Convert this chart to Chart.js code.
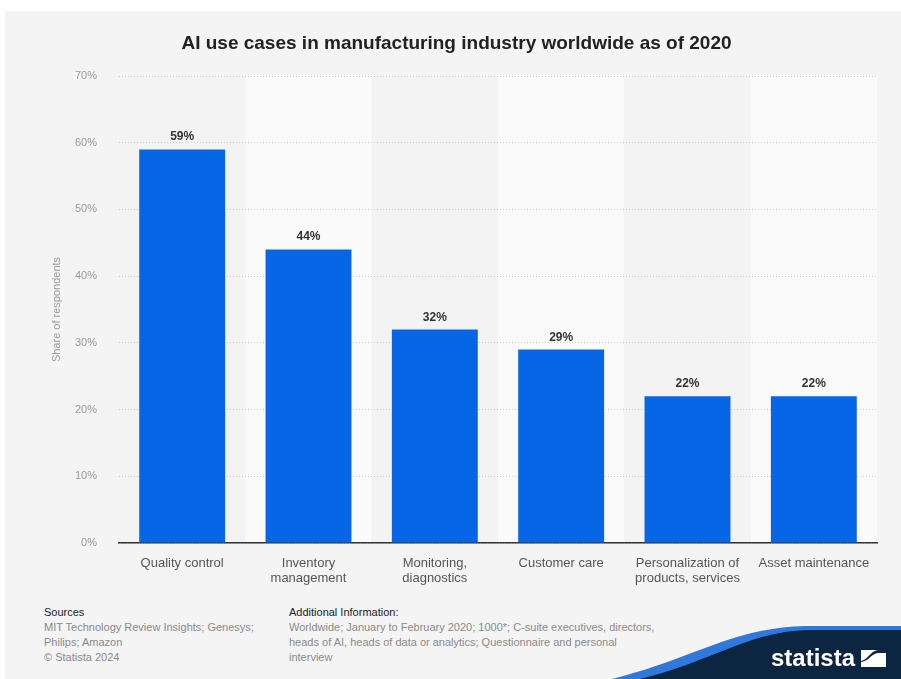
<!DOCTYPE html>
<html>
<head>
<meta charset="utf-8">
<script src="https://cdn.jsdelivr.net/npm/chart.js@4"></script>
<style>
  body { margin: 0; background: #fff; font-family: "Liberation Sans", Arial, sans-serif; }
  #page { position: absolute; left: 5px; top: 11px; width: 896px; height: 668px; background: #f4f4f4; overflow: hidden; }
  #title { position: absolute; left: 6px; top: 32px; width: 901px; text-align: center; font-weight: bold; font-size: 19px; color: #222; }
  #chartBox { position: absolute; left: 0; top: 0; }
  .foot { position: absolute; top: 605px; font-size: 11px; line-height: 15px; color: #8a8a8a; }
  .foot b { font-weight: normal; color: #222; }
  #logo { position: absolute; left: 0; top: 0; }
</style>
</head>
<body>
<div id="page"></div>
<div id="chartBox"><canvas id="myChart" width="901" height="600"></canvas></div>
<div id="title">AI use cases in manufacturing industry worldwide as of 2020</div>
<div class="foot" style="left:44px">
  <b>Sources</b><br>
  MIT Technology Review Insights; Genesys;<br>
  Philips; Amazon<br>
  © Statista 2024
</div>
<div class="foot" style="left:289px">
  <b>Additional Information:</b><br>
  Worldwide; January to February 2020; 1000*; C-suite executives, directors,<br>
  heads of AI, heads of data or analytics; Questionnaire and personal<br>
  interview
</div>
<svg id="logo" width="901" height="679">
  <path d="M 612 679 C 690 660, 735 627, 805 626 L 901 626 L 901 679 Z" fill="#2f78dc"/>
  <path d="M 640 679 C 712 662, 748 631, 810 630 L 901 630 L 901 679 Z" fill="#0c2540"/>
  <text x="771" y="666" fill="#fff" font-family="Liberation Sans Narrow, Liberation Sans, sans-serif" font-weight="bold" font-size="24">statista</text>
  <rect x="861" y="650" width="25" height="17" fill="#fff"/>
  <path d="M 861 667 L 861 662 C 868 662, 872 653, 878 653 L 886 653 L 886 650 L 878 650 C 870 651, 868 660, 861 661 Z" fill="#0c2540"/>
</svg>

<script>
var categories = [
  'Quality control',
  ['Inventory', 'management'],
  ['Monitoring,', 'diagnostics'],
  'Customer care',
  ['Personalization of', 'products, services'],
  'Asset maintenance'
];
var shares = [59, 44, 32, 29, 22, 22];
var yMax = 70;
var yStep = 10;

// alternating column shading behind the grid
var bands = {
  id: 'bands',
  beforeDraw: function(chart) {
    var ctx = chart.ctx, area = chart.chartArea, x = chart.scales.x;
    var w = (area.right - area.left) / categories.length;
    ctx.save();
    for (var i = 0; i < categories.length; i++) {
      ctx.fillStyle = i % 2 === 0 ? '#f3f3f3' : '#fafafa';
      var cx = x.getPixelForValue(i);
      ctx.fillRect(cx - w / 2, area.top, w, area.bottom - area.top);
    }
    ctx.restore();
  }
};

// value labels above bars
var valueLabels = {
  id: 'valueLabels',
  afterDatasetsDraw: function(chart) {
    var ctx = chart.ctx;
    var meta = chart.getDatasetMeta(0);
    ctx.save();
    ctx.font = 'bold 12px "Liberation Sans", Arial, sans-serif';
    ctx.fillStyle = '#333';
    ctx.textAlign = 'center';
    ctx.textBaseline = 'alphabetic';
    meta.data.forEach(function(bar, i) {
      ctx.fillText(shares[i] + '%', bar.x, bar.y - 9);
    });
    ctx.restore();
  }
};

new Chart('myChart', {
  type: 'bar',
  data: {
    labels: categories,
    datasets: [{
      data: shares,
      backgroundColor: '#0766e5',
      barPercentage: 0.68,
      categoryPercentage: 1
    }]
  },
  plugins: [bands, valueLabels],
  options: {
    responsive: false,
    animation: false,
    events: [],
    layout: {
      padding: { left: 40, right: 24, top: 76, bottom: 0 }
    },
    plugins: {
      legend: { display: false },
      title: { display: false },
      tooltip: { enabled: false }
    },
    scales: {
      y: {
        min: 0,
        max: yMax,
        afterFit: function(scale) { scale.width = 79; },
        ticks: {
          stepSize: yStep,
          padding: 22,
          color: '#9a9a9a',
          font: { size: 11, family: '"Liberation Sans", Arial, sans-serif' },
          callback: function(val) { return val + '%'; }
        },
        grid: {
          color: '#cdcdcd',
          drawTicks: false
        },
        border: { display: false, dash: [1, 2] },
        title: {
          display: true,
          text: 'Share of respondents',
          color: '#9a9a9a',
          padding: { top: 10, bottom: 0 },
          font: { size: 11, family: '"Liberation Sans", Arial, sans-serif' }
        }
      },
      x: {
        afterFit: function(scale) { scale.height = 57; },
        ticks: {
          padding: 13,
          color: '#555',
          maxRotation: 0,
          autoSkip: false,
          font: { size: 13, family: '"Liberation Sans", Arial, sans-serif', lineHeight: 1.15 }
        },
        grid: { display: false, drawTicks: false },
        border: { color: '#333', width: 1.5 }
      }
    }
  }
});
</script>
</body>
</html>
